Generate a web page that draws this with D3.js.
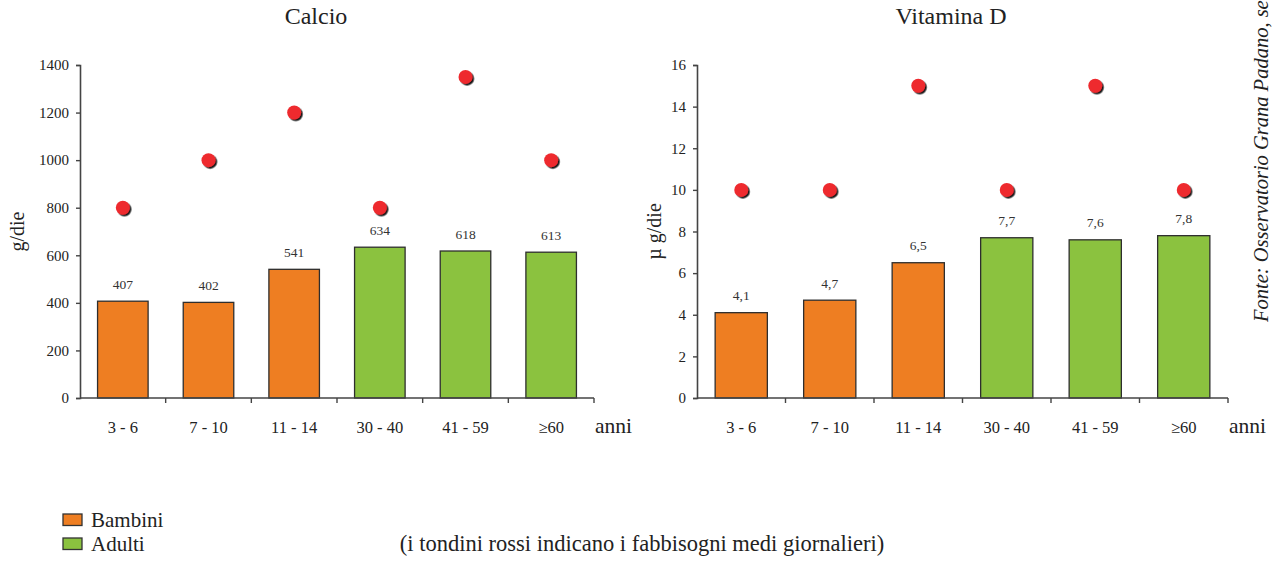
<!DOCTYPE html>
<html>
<head>
<meta charset="utf-8">
<script src="https://cdn.jsdelivr.net/npm/d3@7"></script>
<style>
  html, body { margin: 0; padding: 0; background: #fff; }
  svg text { font-family: 'Liberation Serif', 'DejaVu Serif', serif; }
</style>
</head>
<body>
<svg id="chart" width="1273" height="567"></svg>
<script>
// Age classes shared by both panels
const ageGroups = ["3 - 6", "7 - 10", "11 - 14", "30 - 40", "41 - 59", "≥60"];
const groupType = ["Bambini", "Bambini", "Bambini", "Adulti", "Adulti", "Adulti"];

// Calcium: measured intake (bars) and average daily requirement (dots), g/die
const calcioIntake = [407, 402, 541, 634, 618, 613];
const calcioNeed = [800, 1000, 1200, 800, 1350, 1000];
const calcioTicks = [0, 200, 400, 600, 800, 1000, 1200, 1400];

// Vitamin D: measured intake (bars) and average daily requirement (dots), µg/die
const vitDIntake = [4.1, 4.7, 6.5, 7.7, 7.6, 7.8];
const vitDNeed = [10, 10, 15, 10, 15, 10];
const vitDTicks = [0, 2, 4, 6, 8, 10, 12, 14, 16];

const legendItems = ["Bambini", "Adulti"];
const colors = { Bambini: "#ee7e22", Adulti: "#8bc23f" };

const svg = d3.select("#chart");

const defs = svg.append("defs");
const shadow = defs.append("filter").attr("id", "dotShadow")
  .attr("x", "-50%").attr("y", "-50%").attr("width", "200%").attr("height", "200%");
shadow.append("feDropShadow").attr("dx", 1.6).attr("dy", 1.6)
  .attr("stdDeviation", 0.6).attr("flood-color", "#000").attr("flood-opacity", 0.9);

function panel(opts) {
  const { x0, x1, y0, y1, title, titleX, yLabel, yLabelX, intake, need, ticks, labelFmt } = opts;
  const g = svg.append("g");

  const x = d3.scaleBand().domain(ageGroups).range([x0, x1]).paddingInner(0.41).paddingOuter(0.205);
  const y = d3.scaleLinear().domain([ticks[0], ticks[ticks.length - 1]]).range([y0, y1]);

  // title
  g.append("text").attr("x", titleX).attr("y", 24).attr("text-anchor", "middle")
    .attr("font-size", 24).attr("fill", "#222").text(title);

  // y axis
  const yAxis = g.append("g").attr("transform", `translate(${x0},0)`)
    .call(d3.axisLeft(y).tickValues(ticks).tickFormat(d3.format("d")).tickSize(4).tickPadding(7));
  yAxis.attr("font-family", null);
  yAxis.select(".domain").attr("stroke", "#444").attr("stroke-width", 1.6);
  yAxis.selectAll(".tick line").attr("stroke", "#444").attr("stroke-width", 1.4);
  yAxis.selectAll(".tick text").attr("font-size", 15).attr("fill", "#222");

  // y axis label
  g.append("text").attr("transform", `translate(${yLabelX},${(y0 + y1) / 2}) rotate(-90)`)
    .attr("text-anchor", "middle").attr("font-size", 20).attr("fill", "#222").text(yLabel);

  // bars
  g.selectAll("rect.bar").data(intake).join("rect").attr("class", "bar")
    .attr("x", (d, i) => x(ageGroups[i]))
    .attr("width", x.bandwidth())
    .attr("y", d => y(d))
    .attr("height", d => y0 - y(d))
    .attr("fill", (d, i) => colors[groupType[i]])
    .attr("stroke", "#2e2e2e").attr("stroke-width", 1.3);

  // value labels
  g.selectAll("text.val").data(intake).join("text").attr("class", "val")
    .attr("x", (d, i) => x(ageGroups[i]) + x.bandwidth() / 2)
    .attr("y", d => y(d) - 12.5)
    .attr("text-anchor", "middle").attr("font-size", 13.5).attr("fill", "#333")
    .text(labelFmt);

  // x axis line and separators between classes
  g.append("line").attr("x1", x0).attr("x2", x1).attr("y1", y0).attr("y2", y0)
    .attr("stroke", "#444").attr("stroke-width", 1.6);
  const step = (x1 - x0) / ageGroups.length;
  g.selectAll("line.sep").data(d3.range(1, ageGroups.length + 1)).join("line").attr("class", "sep")
    .attr("x1", d => x0 + d * step).attr("x2", d => x0 + d * step)
    .attr("y1", y0).attr("y2", y0 + 5)
    .attr("stroke", "#444").attr("stroke-width", 1.4);

  // category labels
  g.selectAll("text.cat").data(ageGroups).join("text").attr("class", "cat")
    .attr("x", d => x(d) + x.bandwidth() / 2)
    .attr("y", y0 + 35)
    .attr("text-anchor", "middle").attr("font-size", 16.5).attr("fill", "#222")
    .text(d => d);

  g.append("text").attr("x", x1 + 1).attr("y", y0 + 35)
    .attr("font-size", 21.5).attr("fill", "#222").text("anni");

  // requirement dots
  g.selectAll("circle.need").data(need).join("circle").attr("class", "need")
    .attr("cx", (d, i) => x(ageGroups[i]) + x.bandwidth() / 2)
    .attr("cy", d => y(d))
    .attr("r", 7)
    .attr("fill", "#ee2a2e")
    .attr("filter", "url(#dotShadow)");
}

panel({
  x0: 80, x1: 594, y0: 398, y1: 65,
  title: "Calcio", titleX: 316,
  yLabel: "g/die", yLabelX: 24,
  intake: calcioIntake, need: calcioNeed, ticks: calcioTicks,
  labelFmt: d => String(d)
});

panel({
  x0: 697, x1: 1228, y0: 398, y1: 65,
  title: "Vitamina D", titleX: 951,
  yLabel: "µ g/die", yLabelX: 661,
  intake: vitDIntake, need: vitDNeed, ticks: vitDTicks,
  labelFmt: d => d3.format(".1f")(d).replace(".", ",")
});

// source note, rotated on the right edge
svg.append("text")
  .attr("transform", "translate(1268,322) rotate(-90)")
  .attr("font-size", 20.5).attr("font-style", "italic").attr("fill", "#222")
  .text("Fonte: Osservatorio Grana Padano, settembre 2010");

// legend
const legend = svg.append("g");
legendItems.forEach((name, i) => {
  const ly = 514 + i * 24;
  legend.append("rect").attr("x", 63).attr("y", ly).attr("width", 19).attr("height", 11.5)
    .attr("fill", colors[name]).attr("stroke", "#333").attr("stroke-width", 1.3);
  legend.append("text").attr("x", 91).attr("y", ly + 13)
    .attr("font-size", 21).attr("fill", "#222").text(name);
});

svg.append("text").attr("x", 642).attr("y", 551).attr("text-anchor", "middle")
  .attr("font-size", 22.5).attr("fill", "#222")
  .text("(i tondini rossi indicano i fabbisogni medi giornalieri)");
</script>
</body>
</html>
